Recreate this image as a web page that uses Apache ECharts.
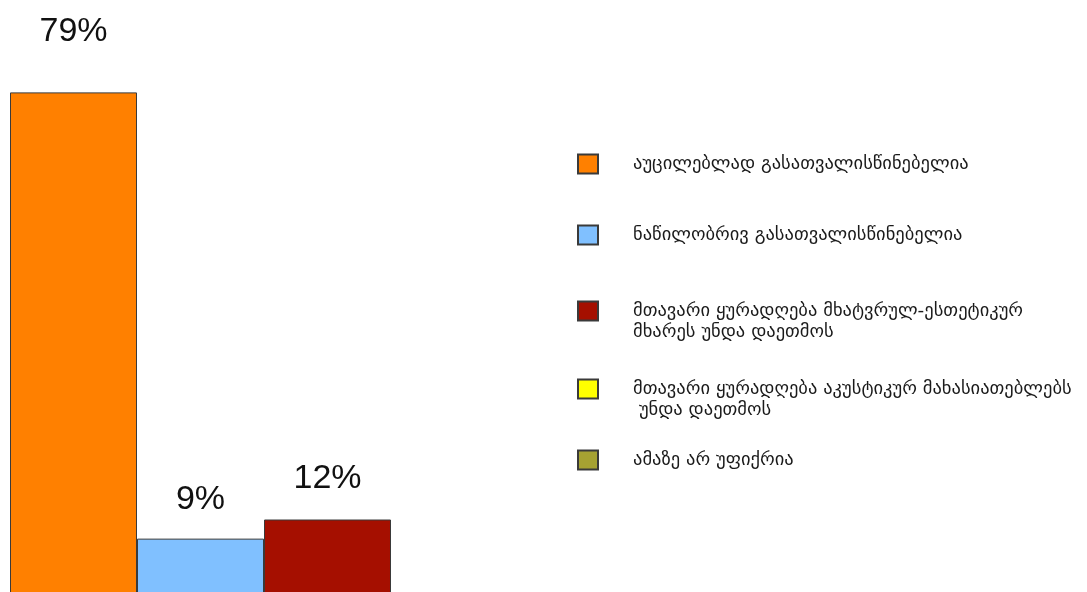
<!DOCTYPE html>
<html>
<head>
<meta charset="utf-8">
<script src="https://cdn.jsdelivr.net/npm/echarts@6/dist/echarts.min.js"></script>
<style>
  html, body { margin: 0; padding: 0; background: #ffffff; overflow: hidden; }
  #chart { width: 1087px; height: 600px; }
</style>
</head>
<body>
<div id="chart"></div>
<script>
// Survey answers (share of respondents, %)
const answers = [
  'აუცილებლად გასათვალისწინებელია',
  'ნაწილობრივ გასათვალისწინებელია',
  'მთავარი ყურადღება მხატვრულ-ესთეტიკურ\nმხარეს უნდა დაეთმოს',
  'მთავარი ყურადღება აკუსტიკურ მახასიათებლებს\n უნდა დაეთმოს',
  'ამაზე არ უფიქრია'
];
const shares = [79, 9, 12, 0, 0];
const colors = ['#FF8000', '#80C0FF', '#A50F00', '#FFFF00', '#A6A232'];

// Vertical centre of each legend swatch
const legendCenters = [164, 235, 311, 389, 460];
// Gap between a value label and its bar top
const labelDistances = [44, 22, 24, 22, 22];

const LINE_H = 21;

const series = answers.map((name, i) => ({
  name: name,
  type: 'bar',
  barGap: 0,
  barCategoryGap: 0,
  data: [shares[i]],
  itemStyle: { color: colors[i], borderColor: '#3a3a3a', borderWidth: 1 },
  label: {
    show: true,
    position: 'top',
    distance: labelDistances[i],
    formatter: p => (p.value > 0 ? p.value + '%' : ''),
    fontFamily: 'Liberation Sans, Arial, sans-serif',
    fontSize: 34,
    color: '#111111'
  }
}));

// One legend per answer so each entry sits at its own height;
// multi-line names get a leading blank line so the swatch lines up with the first line.
const legends = answers.map((name, i) => {
  const lines = name.split('\n').length;
  const blockLines = lines > 1 ? lines + 1 : 1;
  const blockH = blockLines * LINE_H;
  return {
    data: [name],
    orient: 'vertical',
    left: 577,
    top: legendCenters[i] - blockH / 2,
    padding: 0,
    itemWidth: 20,
    itemHeight: 19,
    itemGap: 0,
    icon: 'rect',
    selectedMode: false,
    formatter: n => (n.indexOf('\n') >= 0 ? '\n' + n : n),
    textStyle: {
      fontFamily: 'DejaVu Sans, sans-serif',
      fontSize: 18.5,
      lineHeight: LINE_H,
      color: '#1a1a1a',
      padding: [0, 0, 0, 30]
    }
  };
});

const chart = echarts.init(document.getElementById('chart'), null, { renderer: 'canvas' });
chart.setOption({
  animation: false,
  backgroundColor: '#ffffff',
  grid: { left: 10, top: 86, width: 635, bottom: 4 },
  xAxis: {
    type: 'category',
    data: [''],
    show: false
  },
  yAxis: {
    type: 'value',
    min: 0,
    max: 80,
    show: false
  },
  legend: legends,
  series: series
});
</script>
</body>
</html>
